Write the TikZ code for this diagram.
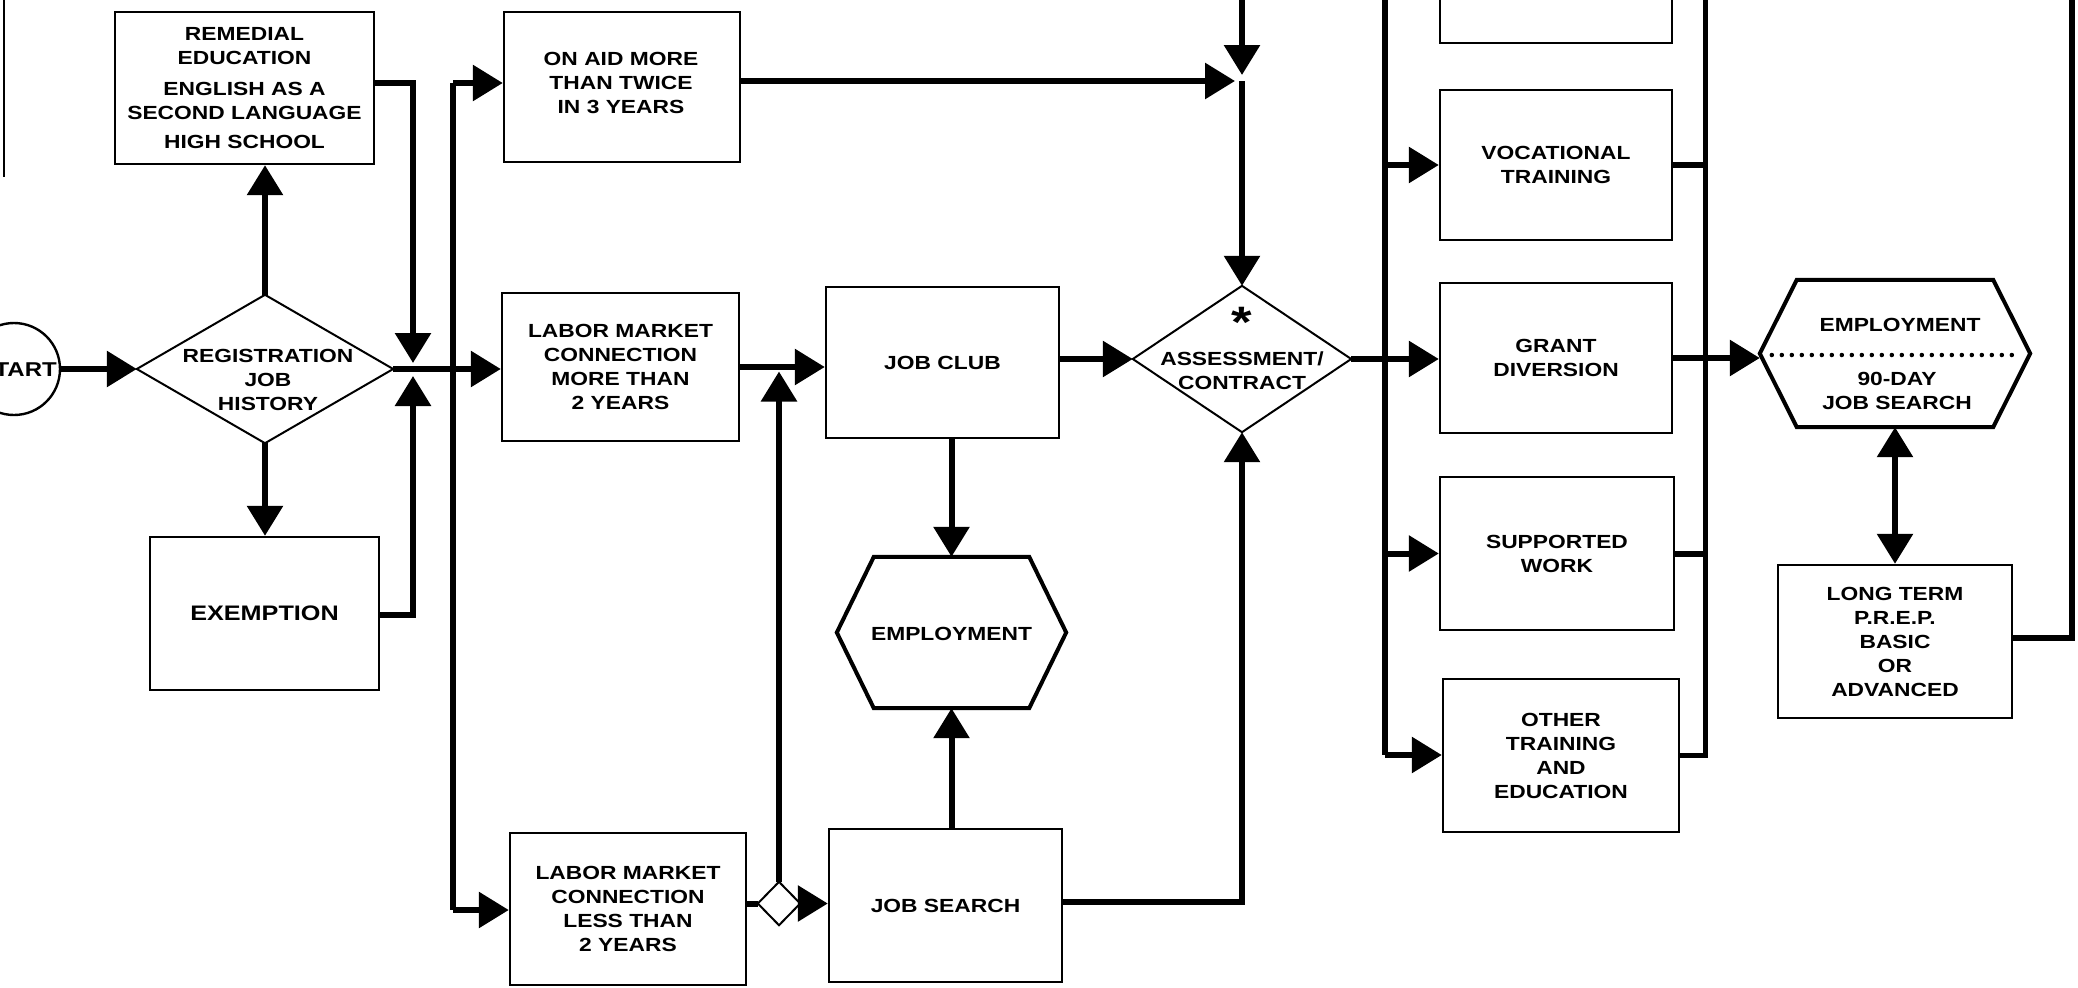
\documentclass[tikz,border=0pt]{standalone}
\usepackage{fontspec}
\newfontfamily\lbl{Liberation Sans}[FakeStretch=1.2]
\usetikzlibrary{arrows.meta}
\newcommand\lblfont{\lbl\bfseries\fontsize{19}{24}\selectfont}
\newcommand\lblbig{\lbl\bfseries\fontsize{21}{24}\selectfont}
\newcommand\lblstart{\lbl\bfseries\fontsize{20}{24}\selectfont}
\newcommand\lblast{\lbl\bfseries\fontsize{44}{44}\selectfont}
\begin{document}
\begin{tikzpicture}[x=1pt,y=-1pt,
  box/.style={draw, line width=2.4pt, inner sep=0pt, align=center, font=\lblfont},
  ghost/.style={inner sep=0pt},
  txt/.style={inner sep=0pt, align=center, font=\lblfont},
  conn/.style={line width=6pt},
  arr/.style={line width=6pt, -{Triangle[length=30pt,width=35pt]}},
  dbl/.style={line width=6pt, {Triangle[length=30pt,width=35pt]}-{Triangle[length=30pt,width=35pt]}},
  dia/.style={line width=2pt, line join=miter},
  hex/.style={line width=4pt, line join=miter},
]
\useasboundingbox (0,0) rectangle (2078,988);
\clip (0,0) rectangle (2078,988);
\fill[white] (0,0) rectangle (2078,988);

% ---------- nodes ----------
\node[draw, circle, line width=2.4pt, minimum size=92pt, inner sep=0pt] (start) at (14,369) {};
\node[inner sep=0pt, anchor=east, font=\lblstart] (startT) at (57,370) {START};

\node[ghost, minimum width=256pt, minimum height=148pt] (reg) at (265,369) {};
\draw[dia] (reg.north) -- (reg.east) -- (reg.south) -- (reg.west) -- cycle;
\node[txt] (regT) at (268,380) {REGISTRATION\\JOB\\HISTORY};

\node[box, minimum width=259pt, minimum height=152pt] (rem) at (244.5,88)
  {REMEDIAL\\EDUCATION\\[7pt]ENGLISH AS A\\SECOND LANGUAGE\\[5pt]HIGH SCHOOL};
\node[box, font=\lblbig, minimum width=229pt, minimum height=153pt] (exe) at (264.5,613.5) {EXEMPTION};

\node[box, minimum width=236pt, minimum height=150pt] (onaid) at (622,87) {};
\node[txt] (onaidT) at (621,82.5) {ON AID MORE\\THAN TWICE\\IN 3 YEARS};
\node[box, minimum width=237pt, minimum height=148pt] (lm2) at (620.5,367)
  {LABOR MARKET\\CONNECTION\\MORE THAN\\2 YEARS};
\node[box, minimum width=236pt, minimum height=152pt] (lml) at (628,909)
  {LABOR MARKET\\CONNECTION\\LESS THAN\\2 YEARS};

\node[box, minimum width=233pt, minimum height=151pt] (club) at (942.5,362.5) {JOB CLUB};
\node[box, minimum width=233pt, minimum height=153pt] (search) at (945.5,905.5) {JOB SEARCH};

\node[ghost, minimum width=229pt, minimum height=151pt] (emp1) at (951.5,632.5) {};
\draw[hex] ([xshift=37pt]emp1.north west) -- ([xshift=-37pt]emp1.north east) -- (emp1.east)
  -- ([xshift=-37pt]emp1.south east) -- ([xshift=37pt]emp1.south west) -- (emp1.west) -- cycle;
\node[txt] (emp1T) at (951.5,634) {EMPLOYMENT};

\node[ghost, minimum width=42pt, minimum height=43pt] (sd) at (779,903.5) {};
\draw[dia] (sd.north) -- (sd.east) -- (sd.south) -- (sd.west) -- cycle;

\node[ghost, minimum width=218pt, minimum height=146pt] (assess) at (1242,359) {};
\draw[dia] (assess.north) -- (assess.east) -- (assess.south) -- (assess.west) -- cycle;
\node[txt] (assessT) at (1242,370.5) {ASSESSMENT/\\CONTRACT};
\node[inner sep=0pt, anchor=base, font=\lblast] (ast) at (1242,337) {*};

\node[box, minimum width=232pt, minimum height=154pt] (topbox) at (1556,-34) {};
\node[box, minimum width=232pt, minimum height=150pt] (voc) at (1556,165) {VOCATIONAL\\TRAINING};
\node[box, minimum width=232pt, minimum height=150pt] (grant) at (1556,358) {GRANT\\DIVERSION};
\node[box, minimum width=234pt, minimum height=153pt] (sup) at (1557,553.5) {SUPPORTED\\WORK};
\node[box, minimum width=236pt, minimum height=153pt] (oth) at (1561,755.5) {OTHER\\TRAINING\\AND\\EDUCATION};

\node[ghost, minimum width=270pt, minimum height=147pt] (emp2) at (1895,353.5) {};
\draw[hex] ([xshift=37pt]emp2.north west) -- ([xshift=-37pt]emp2.north east) -- (emp2.east)
  -- ([xshift=-37pt]emp2.south east) -- ([xshift=37pt]emp2.south west) -- (emp2.west) -- cycle;
\draw[line width=4.5pt, line cap=round, dash pattern=on 0pt off 10pt]
  ([xshift=12pt,yshift=-1.5pt]emp2.west) -- ([xshift=-16pt,yshift=-1.5pt]emp2.east);
\node[txt] (emp2T) at (1900,325) {EMPLOYMENT};
\node[txt] (emp2S) at (1897,390.5) {90-DAY\\JOB SEARCH};

\node[box, minimum width=234pt, minimum height=153pt] (lt) at (1895,641.5)
  {LONG TERM\\P.R.E.P.\\BASIC\\OR\\ADVANCED};

% ---------- coordinates ----------
\coordinate (j1) at (413,369);
\coordinate (b1t) at (453,83);
\coordinate (b1b) at (453,910);
\coordinate (j2) at (1242,81);
\coordinate (topin) at (1242,-5);
\coordinate (b2t) at (1385,-5);
\coordinate (b2b) at (1385,755);
\coordinate (b3t) at (1705,-5);
\coordinate (b4t) at (2072,-5);
\coordinate (edge1) at (4,-5);
\coordinate (edge2) at (4,177);

% ---------- connectors ----------
\draw[arr] (start.east) -- (reg.west);
\draw[arr] (reg.north) -- (reg.north |- rem.south);
\draw[arr] (reg.south) -- (reg.south |- exe.north);
\draw[arr, shorten >=6pt] ([yshift=5pt]rem.east) -| (j1);
\draw[arr, shorten >=7pt] ([yshift=-1.5pt]exe.east) -| (j1);
\draw[arr] (reg.east) -- (reg.east -| lm2.west);
\draw[conn] (b1t) -- (b1b);
\draw[arr] (b1t) -- (b1t -| onaid.west);
\draw[arr] (b1b) -- (b1b -| lml.west);
\draw[arr] (lm2.east) -- (lm2.east -| club.west);
\draw[conn] (sd.west -| lml.east) -- (sd.west);
\draw[arr] (sd.east) -- (sd.east -| search.west);
\draw[arr, shorten >=9pt] (sd.north) -- (sd.north |- club.west);
\draw[arr] (emp1.north |- club.south) -- (emp1.north);
\draw[arr] (emp1.south |- search.north) -- (emp1.south);
\draw[arr] (assess.west -| club.east) -- (assess.west);
\draw[arr] ([yshift=3.5pt]search.east) -| (assess.south);
\draw[arr, shorten >=7pt] ([yshift=6pt]onaid.east) -- (j2);
\draw[arr, shorten >=6pt] (topin) -- (j2);
\draw[arr] (j2) -- (assess.north);
\draw[arr] (assess.east) -- (assess.east -| grant.west);
\draw[conn] (b2t) -- (b2b);
\draw[arr] (b2t |- voc.west) -- (voc.west);
\draw[arr] (b2t |- sup.west) -- (sup.west);
\draw[arr] (b2b) -- (b2b -| oth.west);
\draw[line width=5pt] (b3t) -- (b3t |- oth.east) -- (oth.east);
\draw[conn] (voc.east) -- (voc.east -| b3t);
\draw[conn] (sup.east) -- (sup.east -| b3t);
\draw[arr] (grant.east) -- (grant.east -| emp2.west);
\draw[dbl] (emp2.south) -- (emp2.south |- lt.north);
\draw[conn] ([yshift=3.5pt]lt.east) -| (b4t);
\draw[line width=2pt] (edge1) -- (edge2);
\end{tikzpicture}
\end{document}
